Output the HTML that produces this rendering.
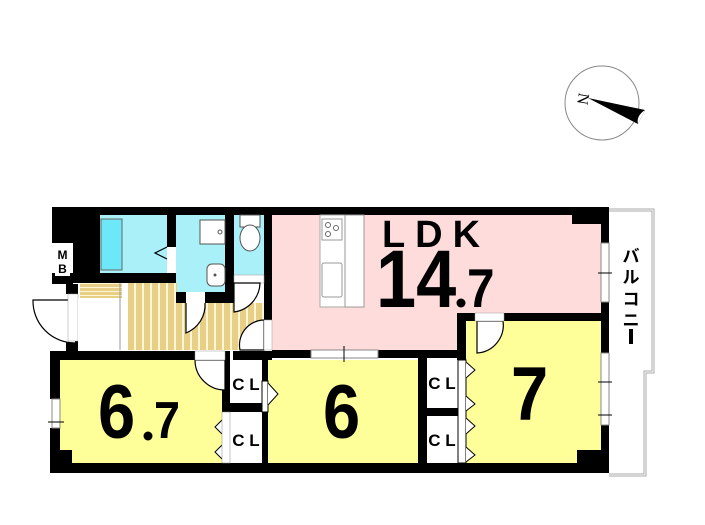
<!DOCTYPE html>
<html><head><meta charset="utf-8"><style>
html,body{margin:0;padding:0;background:#fff;}
svg{display:block;}
text{font-family:"Liberation Sans","Noto Sans CJK JP",sans-serif;font-weight:bold;}
text.n{font-family:"Liberation Serif",serif;font-weight:normal;}
</style></head><body>
<svg width="705" height="525" viewBox="0 0 705 525" xmlns="http://www.w3.org/2000/svg">
<defs>
<pattern id="wood" width="8" height="10" patternUnits="userSpaceOnUse">
<rect width="8" height="10" fill="#e8cf86"/><rect x="6" width="2" height="10" fill="#fff6d8"/>
</pattern>
<pattern id="stair" width="10" height="4" patternUnits="userSpaceOnUse">
<rect width="10" height="4" fill="#e8cf86"/><rect y="3" width="10" height="1" fill="#fff6d8"/>
</pattern>
</defs>

<!-- compass -->
<circle cx="602" cy="103" r="37" fill="#fff" stroke="#888" stroke-width="1"/>
<polygon points="588,98 645,110 638,124" fill="#000"/>
<path d="M645,110 Q636,116 638,124" fill="#fff" stroke="none"/>
<text class="n" x="578" y="98" font-size="16" transform="rotate(100 578 98)" text-anchor="middle">N</text>

<!-- balcony -->
<path d="M609,210 H653 V372 H645 V475 H609" fill="none" stroke="#aaa" stroke-width="3"/>
<path d="M609,210 H653 V372 H645 V475 H609" fill="none" stroke="#fff" stroke-width="1"/>
<text x="631" y="262" font-size="17" text-anchor="middle">バ</text>
<text x="631" y="283" font-size="17" text-anchor="middle">ル</text>
<text x="631" y="305" font-size="17" text-anchor="middle">コ</text>
<text x="631" y="326" font-size="17" text-anchor="middle">ニ</text>
<rect x="629" y="329" width="4" height="15" fill="#000"/>

<!-- fills -->
<rect x="272" y="215" width="331" height="137" fill="#ffdcdc"/>
<rect x="457" y="313" width="20" height="40" fill="#ffdcdc"/>
<rect x="60" y="360" width="162" height="105" fill="#ffff99"/>
<rect x="268" y="360" width="150" height="105" fill="#ffff99"/>
<rect x="466" y="321" width="137" height="144" fill="#ffff99"/>
<rect x="100" y="215" width="67" height="58" fill="#aaf0f8"/>
<rect x="176" y="215" width="49" height="77" fill="#aaf0f8"/>
<rect x="234" y="215" width="30" height="60" fill="#aaf0f8"/>
<rect x="128" y="283" width="49" height="67" fill="url(#wood)"/>
<rect x="177" y="303" width="87" height="47" fill="url(#wood)"/>
<rect x="80" y="283" width="42" height="15" fill="url(#stair)"/>

<!-- walls -->
<g fill="#000">
<rect x="52" y="207" width="557" height="8"/>
<rect x="572" y="207" width="37" height="17"/>
<rect x="52" y="207" width="21" height="36"/>
<rect x="52" y="277" width="21" height="7"/>
<rect x="73" y="207" width="27" height="76"/>
<rect x="52" y="273" width="124" height="10"/>
<rect x="167" y="207" width="9" height="40"/>
<rect x="167" y="273" width="9" height="10"/>
<rect x="225" y="207" width="9" height="85"/>
<rect x="176" y="292" width="10" height="11"/>
<rect x="205" y="292" width="29" height="11"/>
<rect x="264" y="207" width="8" height="113"/>
<rect x="601" y="207" width="8" height="36"/>
<rect x="601" y="302" width="8" height="50"/>
<rect x="457" y="313" width="152" height="8"/>
<rect x="457" y="313" width="9" height="157"/>
<rect x="272" y="350" width="39" height="8"/>
<rect x="378" y="350" width="88" height="8"/>
<rect x="50" y="351" width="145" height="9"/>
<rect x="233" y="351" width="39" height="9"/>
<rect x="50" y="351" width="10" height="48"/>
<rect x="50" y="428" width="10" height="45"/>
<rect x="50" y="463" width="559" height="10"/>
<rect x="601" y="321" width="8" height="32"/>
<rect x="601" y="425" width="8" height="48"/>
<rect x="222" y="351" width="8" height="60"/>
<rect x="222" y="403" width="40" height="9"/>
<rect x="262" y="351" width="6" height="30"/>
<rect x="262" y="412" width="6" height="61"/>
<rect x="418" y="351" width="9" height="120"/>
<rect x="418" y="408" width="40" height="8"/>
<rect x="60" y="450" width="12" height="15"/>
<rect x="577" y="450" width="26" height="15"/>
<rect x="66" y="284" width="12" height="10"/>
<rect x="66" y="341" width="12" height="12"/>
</g>

<!-- MB -->
<rect x="55" y="245" width="15" height="31" fill="#fff"/>
<text x="62.5" y="259" font-size="12" text-anchor="middle">M</text>
<text x="62.5" y="273" font-size="12" text-anchor="middle">B</text>

<!-- bath fixtures -->
<rect x="101" y="219" width="21" height="51" fill="#6ee8f8" stroke="#666" stroke-width="1"/>
<rect x="167" y="247" width="9" height="26" fill="#fff"/>
<polyline points="167,247 155,253 167,259" fill="none" stroke="#000" stroke-width="1.2"/>
<rect x="200" y="220" width="25" height="24" fill="#fff" stroke="#555"/>
<circle cx="220" cy="232" r="2" fill="none" stroke="#555"/>
<rect x="207" y="264" width="18" height="22" rx="5" fill="#fff" stroke="#555"/>
<circle cx="215" cy="275" r="1.5" fill="#555"/>
<rect x="240" y="215" width="20" height="12" fill="#fff" stroke="#555"/>
<ellipse cx="250" cy="238" rx="10" ry="13" fill="#fff" stroke="#555"/>
<rect x="234" y="275" width="30" height="8" fill="#fff" stroke="#999" stroke-width=".5"/>

<!-- doors -->
<path d="M186,303 V333 A30,30 0 0,0 205,303" fill="#fff" stroke="#000" stroke-width="1.2"/>
<rect x="186" y="293" width="19" height="10" fill="#fff"/>
<path d="M234,312 A30,30 0 0,0 260,283 H234 Z" fill="#fff" stroke="#000" stroke-width="1.2"/>
<path d="M264,320 A25,25 0 0,0 240,350 H264 Z" fill="#fff" stroke="#000" stroke-width="1.2"/>
<rect x="264" y="320" width="8" height="30" fill="#fff" stroke="#999" stroke-width=".5"/>
<path d="M75,300 H33 A42,42 0 0,0 75,343" fill="#fff" stroke="#000" stroke-width="1.2"/>
<rect x="68" y="294" width="10" height="47" fill="#fff" stroke="#999" stroke-width=".5"/>
<rect x="78" y="298" width="42" height="52" fill="#fff"/>
<line x1="120" y1="283" x2="120" y2="350" stroke="#999"/>
<path d="M195,360 A30,30 0 0,0 225,390 V360 Z" fill="#fff" stroke="#000" stroke-width="1.2"/>
<rect x="195" y="351" width="30" height="9" fill="#fff" stroke="#999" stroke-width=".5"/>
<path d="M477,321 V353 A28,28 0 0,0 503,321 Z" fill="#fff" stroke="#000" stroke-width="1.2"/>
<rect x="475" y="313" width="29" height="8" fill="#fff" stroke="#999" stroke-width=".5"/>

<!-- windows -->
<g fill="#fff" stroke="#888" stroke-width="1">
<rect x="311" y="350" width="67" height="8"/>
<rect x="601" y="243" width="8" height="59"/>
<rect x="52" y="399" width="8" height="29"/>
<rect x="601" y="353" width="8" height="72"/>
</g>
<g stroke="#000" stroke-width="1">
<line x1="344" y1="346" x2="344" y2="362"/>
<line x1="598" y1="273" x2="612" y2="273"/>
<line x1="48" y1="422" x2="64" y2="422"/>
<line x1="598" y1="382" x2="612" y2="382"/>
<line x1="598" y1="415" x2="612" y2="415"/>
</g>

<!-- kitchen -->
<rect x="320" y="215" width="25" height="92" fill="#fff" stroke="#aaa"/>
<rect x="345" y="215" width="19" height="92" fill="#fff" stroke="#999"/>
<rect x="322" y="219" width="20" height="21" fill="#fff" stroke="#999"/>
<circle cx="328" cy="225" r="2.5" fill="none" stroke="#666"/>
<circle cx="336" cy="228" r="2.5" fill="none" stroke="#666"/>
<circle cx="328" cy="234" r="2.5" fill="none" stroke="#666"/>
<rect x="322" y="263" width="20" height="34" rx="2" fill="#fff" stroke="#999"/>

<!-- CL closets -->
<rect x="230" y="360" width="32" height="43" fill="#fff"/>
<rect x="230" y="412" width="32" height="51" fill="#fff"/>
<rect x="427" y="360" width="31" height="48" fill="#fff"/>
<rect x="427" y="416" width="31" height="47" fill="#fff"/>
<g fill="#fff" stroke="#000" stroke-width="1">
<rect x="262" y="381" width="6" height="31"/>
<polyline points="268,383 278,394 268,405"/>
<polyline points="222,420 215,427 222,434"/>
<polyline points="222,445 215,452 222,459"/>
<rect x="458" y="360" width="8" height="103"/>
<polyline points="466,362 475,370 466,378"/>
<polyline points="466,396 475,404 466,411"/>
<polyline points="466,418 475,426 466,434"/>
<polyline points="466,447 475,455 466,462"/>
</g>
<rect x="222" y="412" width="8" height="51" fill="#fff" stroke="#888" stroke-width=".5"/>
<g font-size="17">
<text x="246" y="390" text-anchor="middle">C L</text>
<text x="246" y="446" text-anchor="middle">C L</text>
<text x="442" y="389" text-anchor="middle">C L</text>
<text x="442" y="446" text-anchor="middle">C L</text>
</g>

<!-- labels -->
<text x="436" y="247" font-size="38" text-anchor="middle" letter-spacing="10">LDK</text>
<text x="0" y="0" font-size="82" transform="translate(376,307) scale(0.88,1)">14</text>
<circle cx="461" cy="303" r="4.5" fill="#000"/>
<text x="0" y="0" font-size="55" transform="translate(467,307) scale(0.9,1)">7</text>
<text x="0" y="0" font-size="76" transform="translate(98,438) scale(0.88,1)">6</text>
<circle cx="148" cy="436" r="4.5" fill="#000"/>
<text x="0" y="0" font-size="52" transform="translate(154,438) scale(0.9,1)">7</text>
<text x="0" y="0" font-size="76" transform="translate(323,438) scale(0.88,1)">6</text>
<text x="0" y="0" font-size="76" transform="translate(511,420) scale(0.88,1)">7</text>
</svg>
</body></html>
